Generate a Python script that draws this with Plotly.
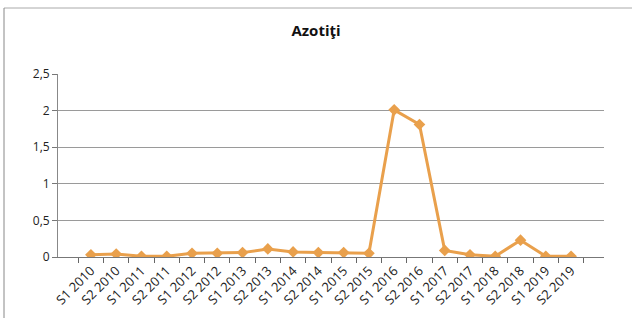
import plotly.graph_objects as go

categories = ["S1 2010", "S2 2010", "S1 2011", "S2 2011", "S1 2012", "S2 2012",
              "S1 2013", "S2 2013", "S1 2014", "S2 2014", "S1 2015", "S2 2015",
              "S1 2016", "S2 2016", "S1 2017", "S2 2017", "S1 2018", "S2 2018",
              "S1 2019", "S2 2019"]
values = [0.03, 0.04, 0.01, 0.01, 0.05, 0.05, 0.06, 0.11, 0.07, 0.06,
          0.06, 0.05, 2.01, 1.81, 0.09, 0.03, 0.01, 0.23, 0.01, 0.01]
y_ticks = [0, 0.5, 1, 1.5, 2, 2.5]
title_text = "Azotiţi"

orange = "#E9A04C"
font_family = "Open Sans, Liberation Sans, sans-serif"

fig = go.Figure(go.Scatter(
    x=categories, y=values, mode="lines+markers",
    line=dict(color=orange, width=3),
    marker=dict(symbol="diamond", size=9, color=orange),
    showlegend=False,
))

fig.update_layout(
    width=632, height=318,
    margin=dict(l=58, r=28, t=74, b=61),
    paper_bgcolor="white", plot_bgcolor="white",
    separators=", ",
    font=dict(family=font_family, size=12, color="#222"),
    title=dict(text="<b>" + title_text + "</b>", x=0.5, xanchor="center",
               y=1 - 31 / 318, yanchor="middle",
               font=dict(size=15, color="#111", family=font_family)),
    xaxis=dict(type="category", tickangle=-45, tickson="boundaries",
               ticks="outside", ticklen=5, tickcolor="#666",
               showline=True, linecolor="#777", linewidth=1,
               showgrid=False, tickfont=dict(size=13), automargin=False),
    yaxis=dict(range=[0, 2.5], tickvals=y_ticks, ticks="outside", ticklen=5,
               tickcolor="#777", showline=True, linecolor="#888", linewidth=1,
               showgrid=True, gridcolor="#9a9a9a", gridwidth=1,
               zeroline=False, tickfont=dict(size=12), automargin=False),
    shapes=[
        dict(type="line", xref="paper", yref="paper",
             x0=(4 - 58) / 546, x1=(632 - 58) / 546,
             y0=(318 - 61 - 8) / 183, y1=(318 - 61 - 8) / 183,
             line=dict(color="#aaa", width=1)),
        dict(type="line", xref="paper", yref="paper",
             x0=(4 - 58) / 546, x1=(4 - 58) / 546,
             y0=(318 - 61 - 8) / 183, y1=-61 / 183,
             line=dict(color="#888", width=1)),
    ],
)

fig.write_html("out.html", config={"displayModeBar": False},
               post_script="document.body.style.margin='0';")
